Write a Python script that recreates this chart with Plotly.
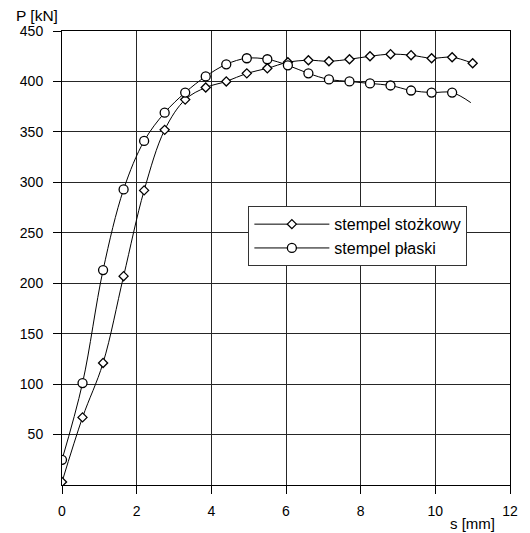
import plotly.graph_objects as go

# displacement s [mm]
s_stozkowy = [0, 0.55, 1.1, 1.65, 2.2, 2.75, 3.3, 3.85, 4.4, 4.95, 5.5, 6.05,
              6.6, 7.15, 7.7, 8.25, 8.8, 9.35, 9.9, 10.45, 11.0]
P_stozkowy = [3, 67, 121, 207, 292, 352, 382, 394, 400, 408, 413, 419,
              421, 420, 422, 425, 427, 426, 423, 424, 418]

s_plaski = [0, 0.55, 1.1, 1.65, 2.2, 2.75, 3.3, 3.85, 4.4, 4.95, 5.5, 6.05,
            6.6, 7.15, 7.7, 8.25, 8.8, 9.35, 9.9, 10.45, 10.95]
P_plaski = [25, 101, 213, 293, 341, 369, 389, 405, 417, 423, 422, 416,
            408, 402, 400, 398, 396, 391, 389, 389, 379]
# the last point of "stempel płaski" ends the line without a marker
n_markers_plaski = 20

x_ticks = [0, 2, 4, 6, 8, 10, 12]
y_ticks = [50, 100, 150, 200, 250, 300, 350, 400, 450]

FONT = "Liberation Sans, Arial, sans-serif"

fig = go.Figure()

# smooth lines
fig.add_trace(go.Scatter(x=s_stozkowy, y=P_stozkowy, mode="lines",
                         line=dict(color="black", width=1, shape="spline", smoothing=1),
                         showlegend=False, hoverinfo="skip"))
fig.add_trace(go.Scatter(x=s_plaski, y=P_plaski, mode="lines",
                         line=dict(color="black", width=1, shape="spline", smoothing=1),
                         showlegend=False, hoverinfo="skip"))
# markers
fig.add_trace(go.Scatter(x=s_stozkowy, y=P_stozkowy, mode="markers",
                         marker=dict(symbol="diamond", size=7, color="white",
                                     line=dict(color="black", width=1.3)),
                         showlegend=False))
fig.add_trace(go.Scatter(x=s_plaski[:n_markers_plaski], y=P_plaski[:n_markers_plaski], mode="markers",
                         marker=dict(symbol="circle", size=9, color="white",
                                     line=dict(color="black", width=1.3)),
                         showlegend=False))
# legend entries
fig.add_trace(go.Scatter(x=[None], y=[None], mode="lines+markers", name="stempel stożkowy",
                         line=dict(color="black", width=1),
                         marker=dict(symbol="diamond", size=7, color="white",
                                     line=dict(color="black", width=1.3))))
fig.add_trace(go.Scatter(x=[None], y=[None], mode="lines+markers", name="stempel płaski",
                         line=dict(color="black", width=1),
                         marker=dict(symbol="circle", size=9, color="white",
                                     line=dict(color="black", width=1.3))))

axis_common = dict(showline=True, linecolor="black", linewidth=1, mirror=True,
                   showgrid=True, gridcolor="#262626", gridwidth=1,
                   ticks="outside", ticklen=8, tickcolor="black",
                   zeroline=False, tickfont=dict(family=FONT, size=14, color="black"))

fig.update_xaxes(range=[0, 12], tickvals=x_ticks, ticklabelstandoff=5, **axis_common)
fig.update_yaxes(range=[0, 450], tickvals=y_ticks, ticklabelstandoff=7, **axis_common)

fig.update_layout(
    width=522, height=525,
    margin=dict(l=53, r=14, t=23, b=48),
    paper_bgcolor="white", plot_bgcolor="white",
    font=dict(family=FONT, size=14, color="black"),
    legend=dict(x=0.416, y=0.614, xanchor="left", yanchor="top",
                bgcolor="white", bordercolor="#333333", borderwidth=1,
                itemwidth=75, tracegroupgap=0, entrywidth=140,
                font=dict(family=FONT, size=16, color="black")),
    annotations=[
        dict(text="P [kN]", xref="paper", yref="paper", x=-0.107, y=1.0,
             xanchor="left", yanchor="middle", yshift=16, showarrow=False,
             font=dict(family=FONT, size=15.5)),
        dict(text="s [mm]", xref="paper", yref="paper", x=0.972, y=0,
             xanchor="right", yanchor="middle", yshift=-38, showarrow=False,
             font=dict(family=FONT, size=15)),
    ],
)

fig.write_html("out.html")
